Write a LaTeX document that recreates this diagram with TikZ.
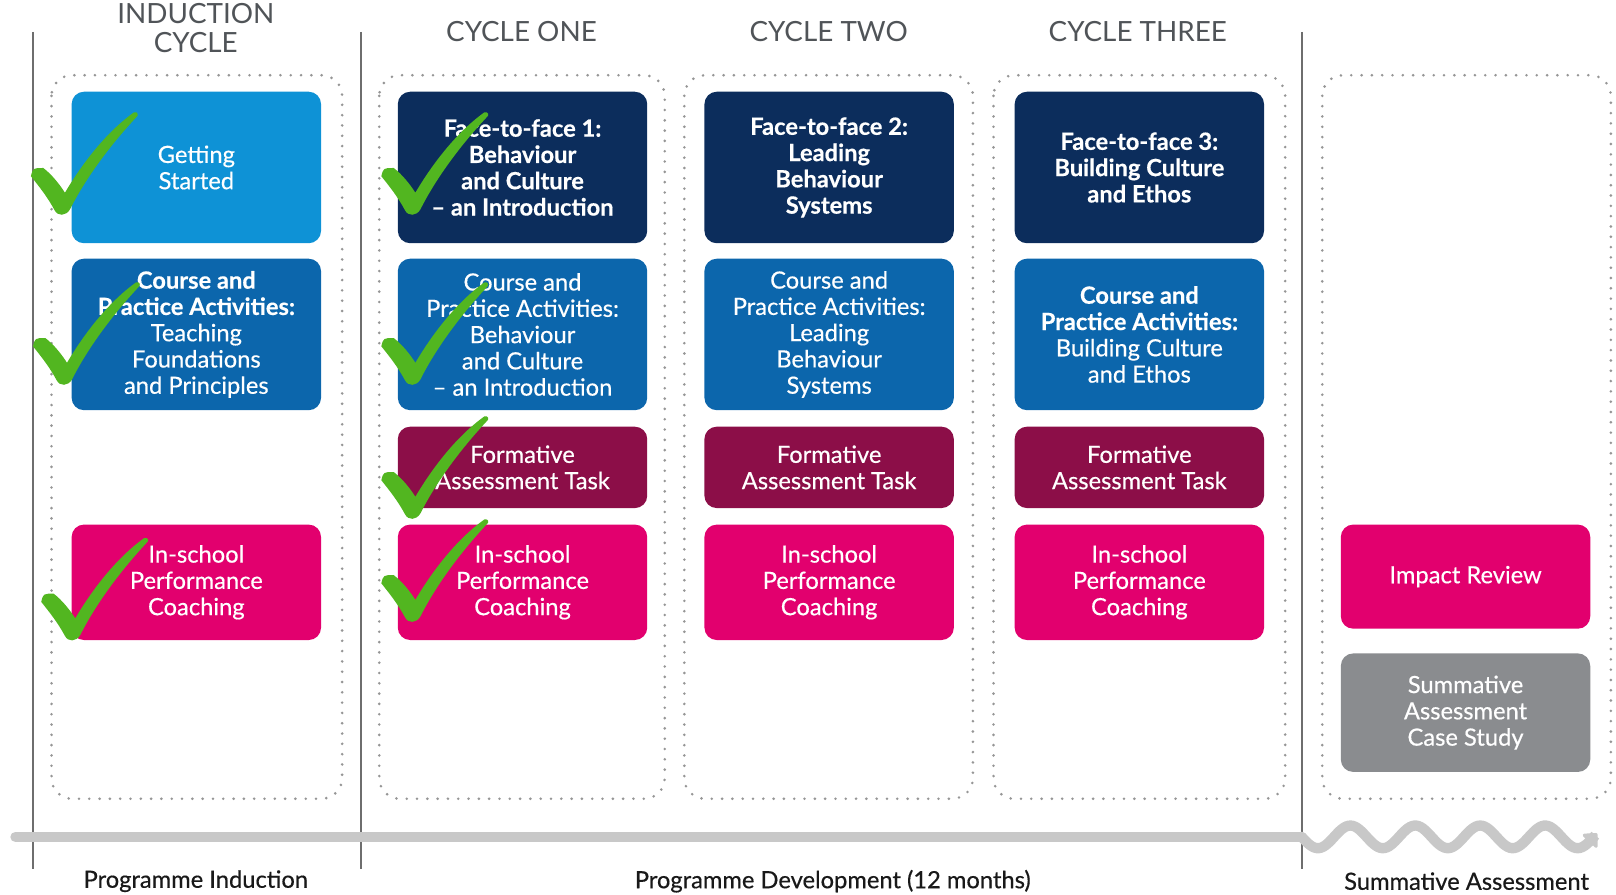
\documentclass[tikz,border=0pt]{standalone}
\usepackage{fontspec}
\setmainfont{Lato}
\newfontfamily\latomed{Lato}[FakeBold=0.45]
\usetikzlibrary{arrows.meta}
\definecolor{lblue}{RGB}{14,146,214}
\definecolor{mblue}{RGB}{12,102,172}
\definecolor{navy}{RGB}{12,45,92}
\definecolor{maroon}{RGB}{140,14,72}
\definecolor{magenta}{RGB}{226,0,110}
\definecolor{greybox}{RGB}{138,140,143}
\definecolor{tickgreen}{RGB}{82,182,32}
\definecolor{headgrey}{RGB}{80,84,88}
\definecolor{rulegrey}{RGB}{110,110,110}
\definecolor{dotgrey}{RGB}{150,150,150}
\definecolor{tlgrey}{RGB}{200,200,200}
\begin{document}
\begin{tikzpicture}[x=0.5pt,y=-0.5pt,
  box/.style={rounded corners=6pt, text=white, align=center, inner sep=0pt,
    minimum width=121pt, font=\latomed\fontsize{11.5}{12.75}\selectfont},
  rowa/.style={minimum height=73.5pt},
  rowb/.style={minimum height=73.5pt},
  rowc/.style={minimum height=39.5pt},
  rowd/.style={minimum height=56pt},
  rowe/.style={minimum height=50.5pt},
  rowf/.style={minimum height=57.5pt},
  dotbox/.style={draw=dotgrey, line width=1.4pt, line cap=round,
    dash pattern=on 0pt off 5pt, rounded corners=10pt},
  sepline/.style={draw=rulegrey, line width=0.9pt},
  heading/.style={text=headgrey, align=center, font=\fontsize{13.5}{14}\selectfont},
  lab/.style={text=black!90, font=\latomed\fontsize{11.5}{13}\selectfont},
  timeline/.style={draw=tlgrey, line width=5pt, line cap=round},
  tick/.pic={\fill[tickgreen]
    (-30,-34) .. controls (-28,-42) .. (-18,-42)
    .. controls (-10,-36) and (-2,-26) .. (3,-18)
    .. controls (22,-50) and (45,-78) .. (70,-96)
    .. controls (74,-97) and (75,-93) .. (72,-91)
    .. controls (45,-62) and (22,-30) .. (8,-2)
    .. controls (4,5) and (-4,5) .. (-7,-1)
    .. controls (-14,-14) and (-22,-24) .. cycle;}
]
\useasboundingbox (0,0) rectangle (1568,868);

% headings
\node[heading] (h0) at (190,27) {INDUCTION\\CYCLE};
\node[heading] (h1) at (506,31) {CYCLE ONE};
\node[heading] (h2) at (804,31) {CYCLE TWO};
\node[heading] (h3) at (1104,31) {CYCLE THREE};

% separators
\draw[sepline] (32,31) -- (32,843);
\draw[sepline] (350,31) -- (350,843);
\draw[sepline] (1263,31) -- (1263,843);

% dotted column frames
\draw[dotbox] (50,73) rectangle (332,775);
\draw[dotbox] (368,73) rectangle (645,775);
\draw[dotbox] (664,73) rectangle (944,775);
\draw[dotbox] (964,73) rectangle (1247,775);
\draw[dotbox] (1283,73) rectangle (1563,775);

% induction column
\node[box,rowa,fill=lblue] (i1) at (190.5,162.5) {Getting\\Started};
\node[box,rowb,fill=mblue] (i2) at (190.5,324.5) {\textbf{Course and}\\\textbf{Practice Activities:}\\Teaching\\Foundations\\and Principles};
\node[box,rowd,fill=magenta] (i4) at (190.5,565) {In-school\\Performance\\Coaching};

% cycle one
\node[box,rowa,fill=navy] (a1) at (507,162.5) {\bfseries Face-to-face 1:\\\bfseries Behaviour\\\bfseries and Culture\\\bfseries – an Introduction};
\node[box,rowb,fill=mblue] (a2) at (507,324.5) {Course and\\Practice Activities:\\Behaviour\\and Culture\\– an Introduction};
\node[box,rowc,fill=maroon] (a3) at (507,453.5) {Formative\\Assessment Task};
\node[box,rowd,fill=magenta] (a4) at (507,565) {In-school\\Performance\\Coaching};

% cycle two
\node[box,rowa,fill=navy] (b1) at (804.5,162.5) {\bfseries Face-to-face 2:\\\bfseries Leading\\\bfseries Behaviour\\\bfseries Systems};
\node[box,rowb,fill=mblue] (b2) at (804.5,324.5) {Course and\\Practice Activities:\\Leading\\Behaviour\\Systems};
\node[box,rowc,fill=maroon] (b3) at (804.5,453.5) {Formative\\Assessment Task};
\node[box,rowd,fill=magenta] (b4) at (804.5,565) {In-school\\Performance\\Coaching};

% cycle three
\node[box,rowa,fill=navy] (c1) at (1105.5,162.5) {\bfseries Face-to-face 3:\\\bfseries Building Culture\\\bfseries and Ethos};
\node[box,rowb,fill=mblue] (c2) at (1105.5,324.5) {\textbf{Course and}\\\textbf{Practice Activities:}\\Building Culture\\and Ethos};
\node[box,rowc,fill=maroon] (c3) at (1105.5,453.5) {Formative\\Assessment Task};
\node[box,rowd,fill=magenta] (c4) at (1105.5,565) {In-school\\Performance\\Coaching};

% summative
\node[box,rowe,fill=magenta] (s1) at (1422,559.5) {Impact Review};
\node[box,rowf,fill=greybox] (s2) at (1422,691.5) {Summative\\Assessment\\Case Study};

% ticks
\pic at (60,205) {tick};
\pic at (62,370) {tick};
\pic at (70,618) {tick};
\pic at (400,205) {tick};
\pic at (400,370) {tick};
\pic at (400,500) {tick};
\pic at (400,600) {tick};

% timeline
\coordinate (t0) at (15,812);
\coordinate (t1) at (1263,812);
\draw[timeline] (t0) -- (t1);
\draw[timeline, -{Triangle[length=6pt,width=11pt,round]}]
  plot[domain=0:4.55, samples=140, smooth] ({1263+\x*63},{812+11*sin(\x*360)});

% bottom labels
\node[lab] (l1) at (190,855) {Programme Induction};
\node[lab] (l2) at (808,855) {Programme Development (12 months)};
\node[lab] (l3) at (1423,855) {Summative Assessment};
\end{tikzpicture}
\end{document}
